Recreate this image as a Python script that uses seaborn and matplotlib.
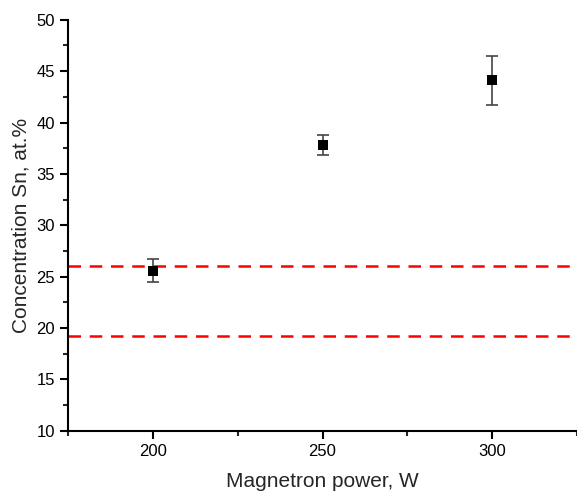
import matplotlib
matplotlib.use("Agg")
import matplotlib.pyplot as plt
import seaborn as sns
import pandas as pd
from matplotlib.ticker import MultipleLocator

power = [200, 250, 300]
concentration = [25.6, 37.8, 44.1]
error = [1.15, 1.0, 2.4]
ref_lines = [26.0, 19.2]

sns.set_theme(style="ticks")
plt.rcParams['font.family'] = ['Liberation Sans', 'DejaVu Sans']

df = pd.DataFrame({"power": power, "conc": concentration, "err": error})

fig = plt.figure(figsize=(5.77, 4.93), dpi=100)
ax = fig.add_axes([0.118, 0.126, 0.882, 0.834])

ax.errorbar(df["power"], df["conc"], yerr=df["err"], fmt="none",
            ecolor="#444444", elinewidth=1.2, capsize=4, capthick=1.2, zorder=2)
sns.scatterplot(data=df, x="power", y="conc", marker="s", color="black",
                s=60, edgecolor="black", linewidth=0, ax=ax, zorder=3)
for v in ref_lines:
    ax.axhline(v, color="#ff0000", linestyle=(0, (5, 3.5)), linewidth=1.8, zorder=1)

ax.set_xlim(175, 325)
ax.set_ylim(10, 50)
ax.xaxis.set_major_locator(MultipleLocator(50))
ax.xaxis.set_minor_locator(MultipleLocator(25))
ax.yaxis.set_major_locator(MultipleLocator(5))
ax.yaxis.set_minor_locator(MultipleLocator(2.5))
ax.tick_params(which="major", direction="out", length=6, width=1.5, labelsize=12,
               colors="black")
ax.tick_params(which="minor", direction="out", length=3.5, width=1.5)
for s in ["top", "right"]:
    ax.spines[s].set_visible(False)
for s in ["left", "bottom"]:
    ax.spines[s].set_linewidth(1.5)
    ax.spines[s].set_color("black")

ax.set_xlabel("Magnetron power, W", fontsize=15, labelpad=9)
ax.set_ylabel("Concentration Sn, at.%", fontsize=15, labelpad=4)

fig.savefig("out.png", dpi=100)
